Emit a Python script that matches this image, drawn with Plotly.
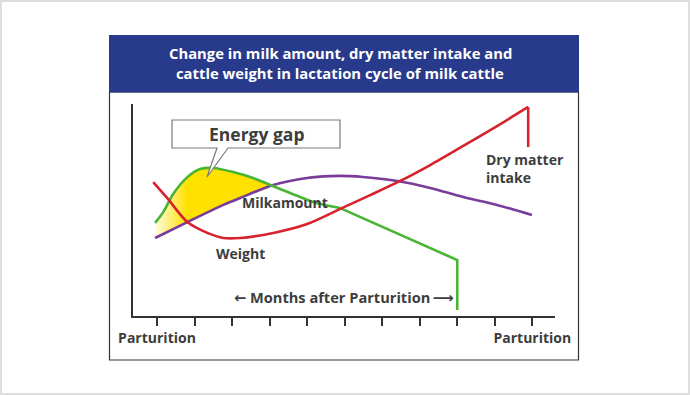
import plotly.graph_objects as go

W, H = 690, 395
# pixel frame of the axes (page pixels)
AX_L, AX_R, AX_T, AX_B = 133, 555, 104, 316

# ---------------- data (x in months-tick units, y in arbitrary units) ----------------
months = list(range(11))
tick_text = ["Parturition"] + [""] * 9 + ["Parturition"]

green_x = [-0.05, 0.17, 0.43, 0.81, 1.15, 1.50, 2.03, 2.56, 3.02, 3.55, 4.16, 4.88, 8.0, 8.0]
green_y = [43.9, 49.1, 57.5, 65.5, 69.3, 69.8, 67.9, 65.1, 61.8, 58.0, 53.8, 50.9, 26.4, 2.8]

purple_x = [-0.05, 0.81, 1.77, 2.22, 3.10, 4.00, 4.61, 5.15, 5.49, 6.40, 7.28, 8.16, 9.06, 9.99]
purple_y = [36.8, 44.3, 52.4, 55.7, 61.8, 65.1, 66.0, 66.0, 65.6, 63.7, 60.4, 56.1, 52.4, 47.6]

red_x = [-0.10, 0.27, 0.81, 1.34, 1.77, 2.22, 3.10, 4.00, 4.88, 5.68, 6.48, 7.28, 8.16, 9.06, 9.89, 9.89]
red_y = [63.2, 55.7, 44.3, 39.2, 36.8, 36.8, 39.2, 43.4, 50.5, 57.0, 63.7, 71.2, 80.2, 89.6, 98.6, 79.7]

gap_end = (3.04, 61.8)  # where green meets purple (end of energy gap)

# ---------------- helpers ----------------
def px(x):
    return x / W

def py(y):
    return 1 - y / H

x_lo = -(157 - AX_L) / 37.56
x_hi = 10 + (AX_R - 532.3) / 37.56
y_lo, y_hi = 0, (AX_B - AX_T) / 2.12

GREEN = "#49b533"
PURPLE = "#7a3c9a"
RED = "#d8222e"
YELLOW = "#ffe100"
TXT = "#3d3d3d"
FONT = "Open Sans"

fig = go.Figure()

# energy gap fill (between green and purple until they meet)
gx = [x for x in green_x if x < gap_end[0]] + [gap_end[0]]
gy = [y for x, y in zip(green_x, green_y) if x < gap_end[0]] + [gap_end[1]]
pxs = [x for x in purple_x if x < gap_end[0]] + [gap_end[0]]
pys = [y for x, y in zip(purple_x, purple_y) if x < gap_end[0]] + [gap_end[1]]
fig.add_trace(go.Scatter(x=pxs, y=pys, mode="lines", line=dict(width=0, shape="spline"),
                         hoverinfo="skip", showlegend=False))
fig.add_trace(go.Scatter(x=gx, y=gy, mode="lines", line=dict(width=0, shape="spline"),
                         fill="tonexty",
                         fillgradient=dict(type="horizontal",
                                           colorscale=[[0, "#fffbe0"], [0.28, YELLOW], [1, YELLOW]]),
                         hoverinfo="skip", showlegend=False))

def add_series(xs, ys, color, corner):
    # smooth part up to the corner index, straight segments after it
    fig.add_trace(go.Scatter(x=xs[:corner + 1], y=ys[:corner + 1], mode="lines",
                             line=dict(color=color, width=2.6, shape="spline", smoothing=0.8),
                             showlegend=False))
    if corner < len(xs) - 1:
        fig.add_trace(go.Scatter(x=xs[corner:], y=ys[corner:], mode="lines",
                                 line=dict(color=color, width=2.6, shape="linear"),
                                 showlegend=False))

add_series(purple_x, purple_y, PURPLE, len(purple_x) - 1)
add_series(green_x, green_y, GREEN, 11)
add_series(red_x, red_y, RED, len(red_x) - 2)

# ---------------- frame & decorations ----------------
shapes = [
    dict(type="rect", xref="paper", yref="paper", x0=px(1), x1=px(689), y0=py(1), y1=py(394),
         line=dict(color="#dedede", width=2), fillcolor="rgba(0,0,0,0)", layer="below"),
    dict(type="rect", xref="paper", yref="paper", x0=px(109.5), x1=px(578.5), y0=py(92), y1=py(360),
         line=dict(color="#333333", width=1.2), fillcolor="white", layer="below"),
    dict(type="rect", xref="paper", yref="paper", x0=px(109), x1=px(579), y0=py(35), y1=py(92.5),
         line=dict(width=0), fillcolor="#283a8b", layer="above"),
]
box = [(172, 120), (340, 120), (340, 148), (228, 148), (207, 177), (217, 148), (172, 148)]
path = "M " + " L ".join(f"{px(a):.5f},{py(b):.5f}" for a, b in box) + " Z"
shapes.append(dict(type="path", xref="paper", yref="paper", path=path,
                   line=dict(color="#7a7a7a", width=1.2), fillcolor="white", layer="above"))

def label(text, x, y, size, color=TXT, xanchor="center"):
    return dict(text=text, xref="paper", yref="paper", x=px(x), y=py(y), xanchor=xanchor,
                yanchor="middle", showarrow=False, align="left" if xanchor == "left" else "center",
                font=dict(family=FONT, size=size, color=color, weight="bold"))

ARR = "<span style='font-family:DejaVu Sans'>{}</span>"
annotations = [
    label("Change in milk amount, dry matter intake and", 340, 53, 14.8, "white"),
    label("cattle weight in lactation cycle of milk cattle", 340, 73, 14.8, "white"),
    label("Energy gap", 257, 134, 17.5),
    label("Milkamount", 285, 203, 14),
    label("Weight", 240, 253, 14),
    label("Dry matter<br>intake", 484, 168, 14, xanchor="left"),
    label(ARR.format("\u2190") + " Months after Parturition\u2009" + ARR.format("\u27f6"), 344, 297, 14.6),
]

fig.update_layout(
    width=W, height=H,
    margin=dict(l=0, r=0, t=0, b=0),
    paper_bgcolor="white", plot_bgcolor="rgba(0,0,0,0)",
    shapes=shapes, annotations=annotations,
    showlegend=False,
    xaxis=dict(domain=[AX_L / W, AX_R / W], range=[x_lo, x_hi], showgrid=False, zeroline=False,
               showline=True, linecolor="#333333", linewidth=2.2,
               ticks="outside", ticklen=8, tickwidth=2, tickcolor="#333333",
               tickmode="array", tickvals=months, ticktext=tick_text,
               tickfont=dict(family=FONT, size=14, color=TXT, weight="bold"),
               automargin=False, fixedrange=True),
    yaxis=dict(domain=[1 - AX_B / H, 1 - AX_T / H], range=[y_lo, y_hi], showgrid=False, zeroline=False,
               showline=True, linecolor="#333333", linewidth=2.2, showticklabels=False, ticks="",
               automargin=False, fixedrange=True),
    font=dict(family=FONT),
)

fig.write_html("out.html", config={"displayModeBar": False},
               post_script="document.body.style.margin='0';document.body.style.overflow='hidden';")
